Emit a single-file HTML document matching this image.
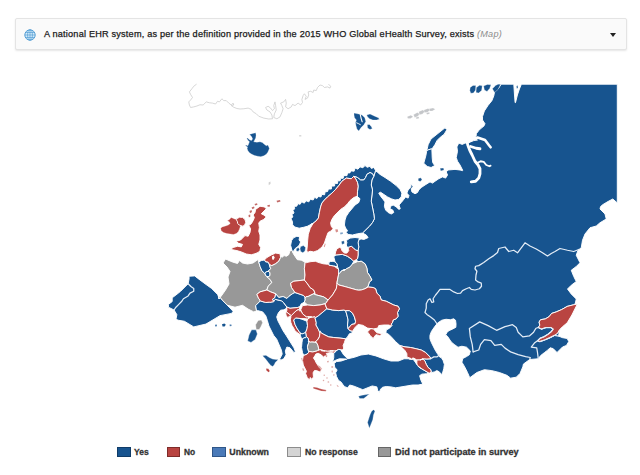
<!DOCTYPE html>
<html><head><meta charset="utf-8"><title>A national EHR system exists (Map)</title>
<style>
html,body{margin:0;padding:0;background:#fff;}
body{width:640px;height:475px;position:relative;overflow:hidden;font-family:"Liberation Sans",sans-serif;color:#222;}
.hdr{position:absolute;left:15px;top:18px;width:610px;height:30px;border:1px solid #e4e4e4;border-radius:2px;background:#fafafa;box-shadow:0 1px 2px rgba(0,0,0,.10);box-sizing:content-box;}
.hdr .t{position:absolute;left:28.3px;top:8.9px;height:12px;line-height:12px;font-size:8.8px;color:#1a1a1a;white-space:nowrap;transform-origin:0 50%;transform:scaleX(1.04);letter-spacing:0.19px;-webkit-text-stroke:0.25px #1a1a1a;}
.hdr .t i{color:#8c8c8c;-webkit-text-stroke:0;}
.hdr svg.g{position:absolute;left:7.7px;top:9.6px;}
.hdr .c{position:absolute;left:593.5px;top:14px;width:0;height:0;border-left:3.5px solid transparent;border-right:3.5px solid transparent;border-top:4px solid #222;}
.sw{position:absolute;top:447px;width:11.6px;height:7.8px;border:1px solid #555;box-sizing:content-box;}
.lt{position:absolute;top:446.3px;height:12px;line-height:12px;font-size:8.8px;-webkit-text-stroke:0.3px #333;font-weight:bold;color:#333;white-space:nowrap;transform-origin:0 50%;}
svg.map{position:absolute;left:0;top:0;}
</style></head><body>
<div class="hdr">
<svg class="g" width="12" height="12" viewBox="0 0 12 12"><circle cx="6" cy="6" r="5.2" fill="#d4ecfa" stroke="#4796d0" stroke-width="0.9"/><g fill="none" stroke="#4796d0" stroke-width="0.6"><ellipse cx="6" cy="6" rx="2.4" ry="5.2"/><path d="M6 0.8V11.2M0.8 6H11.2M1.7 3.5H10.3M1.7 8.5H10.3"/></g></svg>
<div class="t" id="ht">A national EHR system, as per the definition provided in the 2015 WHO Global eHealth Survey, exists <i>(Map)</i></div>
<div class="c"></div>
</div>
<svg class="map" width="640" height="475" viewBox="0 0 640 475">
<path d="M299 135.2 L301.2 135 L301.4 136.4 L299.2 136.6Z" fill="#d6d6d6" stroke="none" stroke-width="0" stroke-linejoin="round"/>
<path d="M268.6 182.4 L270.4 181.6 L270.6 183.8 L268.8 185.2Z" fill="#d0d0d0" stroke="none" stroke-width="0" stroke-linejoin="round"/>
<path d="M366.25 235 L368.10 237.60 L364 239.40 L361.25 239 L358.99 239.43 L358.10 242.50 L358.75 246.90 L358.10 250.60 L358.10 255 L357.50 258.75 L356.23 259.60 L358.04 261.71 L361.25 261.25 L365 263.75 L366.88 268.12 L367.50 272.50 L370 276.25 L371.88 280 L369.38 281.88 L368.12 286.25 L365.05 288.72 L368.10 287 L373.10 287.50 L375.60 288.75 L376.90 293.10 L380 296.25 L381.25 300 L386.25 301.25 L393.75 305 L398.10 306.25 L399.40 308.75 L397.50 312.50 L398.10 316.25 L396.25 318.75 L393.10 320 L392.50 322.50 L391.16 324.11 L391.83 325.41 L391.32 326.03 L391.40 326.06 L389.63 328.13 L386.25 330 L385.88 333 L388.50 334.13 L391.88 337.50 L395.63 341.63 L400 345.62 L405 346.88 L410.62 347.50 L416.25 348.75 L421.25 350 L425.62 352.50 L430 356.88 L430.62 358.75 L426.88 359 L423.12 358.75 L422.88 358.84 L423.02 359.03 L423.12 359 L425 361.25 L426.25 364.38 L428.12 367.50 L430.62 369.38 L431.25 371.88 L431.30 371.84 L431.88 372.50 L434.38 371.88 L436.88 370.62 L439.38 371.88 L441.25 374.38 L442.50 373.12 L443.75 368.75 L444.38 364.38 L443.12 360.62 L441.25 357.50 L439.91 357.18 L437.54 353.86 L435.17 350.07 L431.37 342.49 L429.95 338.70 L429.95 335.38 L431.37 331.59 L434.22 327.32 L437.54 323.06 L441.80 320.21 L446.07 319.27 L450.33 319.74 L453.65 318.79 L455.55 320.21 L456.02 324 L455.83 327.32 L452.23 329.22 L448.91 330.64 L447.01 332.54 L445.59 334.91 L447.49 336.33 L451.28 342.01 L454.12 344.38 L457.44 346.75 L458.13 347.19 L461.88 346.25 L466.56 347.19 L470.32 350.94 L469.38 354.69 L466.56 356.57 L462.81 358.44 L461.88 362.19 L464.69 366.88 L467.50 372.51 L469.75 377.76 L476.88 372.51 L484.38 369.69 L491.88 370.63 L499.38 372.51 L506.88 375.32 L510.63 378.13 L516.26 377.19 L520.01 373.44 L522.82 366.88 L523.44 364.06 L529.69 359.53 L538.28 358.75 L540.62 355.62 L544.53 352.50 L547.66 350.16 L550 347.81 L553.12 348.59 L557.03 352.50 L562.50 347.03 L566.41 345.47 L568.75 341.56 L567.19 338.44 L562.50 337.66 L558.59 336.09 L559.38 330.94 L561.37 327.85 L559.38 329.84 L557.81 332.97 L554.69 335.31 L550 337.66 L544.53 340 L539.84 341.56 L537.50 340.78 L539.84 338.44 L543.75 336.88 L547.66 334.53 L551.56 331.41 L553.12 329.06 L550.78 327.50 L546.09 327.50 L541.41 329.06 L538.28 327.50 L539.84 325.16 L539.06 322.03 L540.62 319.69 L545.31 318.91 L549.22 316.56 L551.56 313.44 L556.25 311.88 L561.72 309.53 L567.19 306.41 L573.44 304.84 L574.72 304.58 L575.25 303.50 L576.25 299 L571.25 294 L567.50 289 L571.25 285.25 L576.25 281.50 L573.75 276.50 L571.25 270.25 L576.25 266.50 L580 262.75 L576.25 255.25 L578 250.25 L581.25 247.75 L582.50 240.25 L585 234 L590 227.75 L596.25 226 L600 222.75 L606.25 219 L605 214 L600 209 L600.60 206.50 L603 204.50 L608 201.50 L612.80 199 L616.40 202.20 L617.30 202.20 L617.30 84.20 L521.40 84.20 L519.40 89 L517.40 95 L515.49 102.63 L515.10 102.59 L514.50 95 L513.80 84.20 L501.26 84.13 L498.44 88.44 L494.69 91.25 L493.76 95.94 L491.88 100.63 L488.13 105.31 L484.38 110.94 L482.51 116.56 L482.50 120 L485 123.75 L483.75 126.25 L481.25 128.10 L478.75 130.60 L476.25 133.75 L476.25 135.60 L474.40 138.75 L477.50 140 L473.75 140.60 L470.60 141.90 L468.10 143.10 L465 143.10 L462.25 144.40 L458.75 143.10 L456.90 146.90 L457.50 151.25 L456.25 157.50 L457.50 161.25 L460 165 L462.70 170.34 L461.72 170.21 L462.28 170.58 L461.29 170.38 L461.34 170.17 L455 169.38 L448.12 170 L446.25 171.88 L447.50 175 L445.62 178.12 L442.50 176.88 L438.75 178.75 L435 181.25 L432.50 183.12 L430 181.88 L425 185 L421.25 187.50 L418.75 190 L417.50 192.50 L415 193.75 L411.88 191.88 L411.25 188.75 L413.12 186.25 L411.25 184.38 L412.50 183.75 L410 184.38 L411.25 185.62 L410 188.12 L408.12 190 L406.88 193.12 L409 195.62 L408.12 198.12 L405.62 196.88 L403.75 199.38 L401.25 202.50 L399 205 L400.25 208.75 L398.75 209.38 L396.25 206.88 L393.12 205 L390.62 206.25 L390 208.75 L392.75 210 L393.75 212.50 L391.25 214 L388.12 212.50 L385.62 210 L384.38 206.25 L385 201.88 L383.12 199.38 L380.62 196.25 L378.75 193.12 L380.62 192.25 L387.50 196.88 L391.25 198.75 L395 200 L398.75 199.38 L401.25 196.88 L401.88 193.12 L400 189.38 L396.25 185.62 L390.62 181.25 L385 177.50 L380 174.38 L375.60 170.50 L373.75 176.25 L371.90 180 L371.25 185 L372.50 190 L371.25 201.25 L373.75 213.75 L374.40 218.75 L372.50 222.50 L369.40 226.25 L362.50 233Z" fill="#17548f" fill-rule="evenodd" stroke="#fff" stroke-width="0.95" stroke-linejoin="round"/>
<path d="M440 168.25 L443.5 168 L444 170 L440.75 171Z" fill="#17548f" stroke="#fff" stroke-width="0.3" stroke-linejoin="round"/>
<path d="M418.25 178.5 L420.75 177.75 L422 179.75 L420.25 181.5 L418.25 180.75Z" fill="#17548f" stroke="#fff" stroke-width="0.3" stroke-linejoin="round"/>
<path d="M574.72 304.58 L573.44 304.84 L567.19 306.41 L561.72 309.53 L556.25 311.88 L551.56 313.44 L549.22 316.56 L545.31 318.91 L540.62 319.69 L539.06 322.03 L539.84 325.16 L538.28 327.50 L541.41 329.06 L546.09 327.50 L550.78 327.50 L553.12 329.06 L551.56 331.41 L547.66 334.53 L543.75 336.88 L539.84 338.44 L537.50 340.78 L539.84 341.56 L544.53 340 L550 337.66 L554.69 335.31 L557.81 332.97 L559.38 329.84 L562.50 326.72 L567.19 322.81 L571.88 315 L577.34 304.06 L575.02 304.52 L575.25 303.50Z" fill="#b94441" fill-rule="evenodd" stroke="#fff" stroke-width="0.95" stroke-linejoin="round"/>
<path d="M444.07 134.38 L446.88 129.69 L445 127.82 L430.94 139.07 L428.13 144.69 L426.63 151.25 L427.23 150.51 L428.40 149.79 L431.54 148.90 L432.09 148.86 L434.88 144.69 L437.13 140.38 L440.32 137.19Z" fill="#17548f" fill-rule="evenodd" stroke="#fff" stroke-width="0.95" stroke-linejoin="round"/>
<path d="M431.81 148.85 L428.40 149.79 L427.23 150.51 L426.63 151.25 L425.90 155.50 L423.75 163.30 L427.20 166.40 L431.10 167.50 L434.70 165.60 L432.70 162.50 L432.20 157.80 L431.86 149.21 L432.09 148.86Z" fill="#17548f" fill-rule="evenodd" stroke="#fff" stroke-width="0.95" stroke-linejoin="round"/>
<path d="M470.2 87.4 L473 85.4 L475.8 85.6 L475.6 90 L473.4 93 L470.8 93.2 L469.8 90.4Z" fill="#17548f" stroke="#fff" stroke-width="0.3" stroke-linejoin="round"/>
<path d="M476.4 87.6 L479.6 85.2 L482.2 85.8 L481.6 90.6 L478.6 93 L476 92.4Z" fill="#17548f" stroke="#fff" stroke-width="0.3" stroke-linejoin="round"/>
<path d="M483.6 86 L487.4 84.4 L491 84.8 L489.6 88.6 L487 91.4 L484.4 90Z" fill="#17548f" stroke="#fff" stroke-width="0.3" stroke-linejoin="round"/>
<path d="M492.4 88.8 L495.6 85.4 L498 84.2 L500.6 84.2 L498 89.6 L494.6 92.4Z" fill="#17548f" stroke="#fff" stroke-width="0.3" stroke-linejoin="round"/>
<path d="M516.6 86 L517.6 85.6 L517.8 88 L516.8 88.4Z" fill="#17548f" stroke="none" stroke-width="0" stroke-linejoin="round"/>
<path d="M407.13 116.63 L410.88 115.13 L413.13 116.63 L410.5 118.5 L407.88 118.5Z" fill="#c4c6c9" stroke="#fff" stroke-width="0.2" stroke-linejoin="round"/>
<path d="M413.5 114.75 L417.25 112.5 L419.5 113.63 L418 116.25 L414.63 117.38Z" fill="#c4c6c9" stroke="#fff" stroke-width="0.2" stroke-linejoin="round"/>
<path d="M418.75 111.75 L422.88 109.88 L424.75 111.38 L422.5 114 L419.5 114.75Z" fill="#c4c6c9" stroke="#fff" stroke-width="0.2" stroke-linejoin="round"/>
<path d="M424 109.88 L428.13 108.38 L430 109.88 L427.38 112.13 L424.38 112.5Z" fill="#c4c6c9" stroke="#fff" stroke-width="0.2" stroke-linejoin="round"/>
<path d="M429.25 108.75 L433 108 L435.25 109.13 L432.25 111 L429.63 111Z" fill="#c4c6c9" stroke="#fff" stroke-width="0.2" stroke-linejoin="round"/>
<path d="M415.75 117.38 L418.75 116.63 L419.13 118.13 L416.5 118.88Z" fill="#c4c6c9" stroke="#fff" stroke-width="0.2" stroke-linejoin="round"/>
<path d="M426.25 112.88 L429.25 112.13 L429.63 113.63 L427 114.38Z" fill="#c4c6c9" stroke="#fff" stroke-width="0.2" stroke-linejoin="round"/>
<path d="M354 113.1 L358.75 114 L362 115 L364.8 117.8 L365.8 121.5 L363.9 124.8 L361.1 127.6 L358.75 130.9 L356.9 129 L355.9 125.3 L355.5 122.5 L356.4 120.1 L354.5 117.8 L354 115Z" fill="#17548f" stroke="#fff" stroke-width="0.3" stroke-linejoin="round"/>
<path d="M366.7 115 L370 114 L374.2 115.9 L378.4 117.8 L379.4 119.2 L376.5 120.1 L372.8 120.1 L369.5 118.75 L367.6 116.9Z" fill="#17548f" stroke="#fff" stroke-width="0.3" stroke-linejoin="round"/>
<path d="M367.2 124.8 L369.5 124.4 L371.4 126.7 L372.3 128.6 L370 129.5 L367.6 128.1Z" fill="#17548f" stroke="#fff" stroke-width="0.3" stroke-linejoin="round"/>
<path d="M314.63 197.32 L313.16 199.94 L310.28 199.32 L308.80 201.87 L305.96 200.75 L304.29 203.18 L301.71 201.75 L300.08 204.34 L297.79 203.68 L296.81 206.14 L294.15 206.43 L294.62 208.81 L292.99 210.50 L294.04 212.99 L291.87 214.55 L292.87 216.95 L290.95 218.69 L292.50 221.61 L292.60 224.80 L294.70 227 L299.20 228.20 L303.60 227.30 L307.30 226.30 L313.20 223.20 L316 221 L318.40 218.10 L319.40 212.50 L320.60 206.90 L321.90 203.10 L324.40 200 L327.50 196.90 L331.90 193.10 L335.60 189.40 L338.75 185.60 L341.90 181.25 L346.25 178.10 L351.25 178.75 L353.75 176.25 L357.50 177.50 L360.60 180 L363.75 180 L365.60 177.50 L366.90 174.40 L370 172.50 L372.50 173.75 L373.75 176.25 L375.60 170.50 L376.71 171.46 L375.58 170.46 L373.83 167.45 L371.35 168.45 L370.02 166.19 L367.32 167.33 L365 165.56 L362.90 167.78 L359.99 166.87 L357.90 169.16 L354.99 168.06 L354.11 171.20 L350.89 170.88 L349.86 172.95 L347.56 172.96 L346.94 175.68 L343.96 175.50 L343.13 178.31 L340.65 178.34 L340.21 180.76 L337.74 180.83 L337.50 183.52 L334.81 183.33 L334.57 186.02 L331.70 186.06 L331.35 189.03 L328.40 189 L327.64 191.49 L325.03 191.89 L324.62 194.79 L321.73 194.43 L320.99 196.96 L318.36 196.44 L316.90 198.51Z" fill="#17548f" fill-rule="evenodd" stroke="#fff" stroke-width="0.95" stroke-linejoin="round"/>
<path d="M355 205 L348.75 212.50 L346.25 216.25 L345 220 L344.40 225 L345.60 228.10 L347.50 230.60 L346.25 232.50 L348.10 234.40 L352.50 235 L357.50 233.75 L362.50 233 L369.40 226.25 L372.50 222.50 L374.40 218.75 L373.75 213.75 L371.25 201.25 L372.50 190 L371.25 185 L371.90 180 L373.75 176.25 L372.50 173.75 L370 172.50 L366.90 174.40 L365.60 177.50 L363.75 180 L360.60 180 L357.50 177.50 L353.75 176.25 L355.60 178.75 L357.50 182.50 L358.10 186.25 L357.50 191.25 L357.25 196.50 L358.16 197.25 L357.04 196.33 L360 198.75 L358.75 202.50Z" fill="#17548f" fill-rule="evenodd" stroke="#fff" stroke-width="0.95" stroke-linejoin="round"/>
<path d="M357.50 191.25 L358.10 186.25 L357.50 182.50 L355.60 178.75 L353.75 176.25 L351.25 178.75 L346.25 178.10 L341.90 181.25 L338.75 185.60 L335.60 189.40 L331.90 193.10 L327.50 196.90 L324.40 200 L321.90 203.10 L320.60 206.90 L319.40 212.50 L318.40 218.10 L316 221 L313.20 223.20 L310.91 224.43 L313.16 223.27 L310.20 228.30 L308.30 234.20 L307.70 240.10 L307.30 246 L306.80 250.40 L307.50 252.50 L310 251.25 L313.75 251.90 L317.50 250.60 L320 248.75 L322.50 246.25 L324.40 243.10 L326.90 235.60 L328.10 232.50 L330.60 231.25 L333.10 228.75 L331.25 226.25 L330.60 223 L331.90 219.40 L334.40 215.60 L340.60 209.40 L344.40 206.90 L347.50 203.75 L350 200.60 L353.75 197.50 L357.04 196.33 L358.16 197.25 L357.25 196.50Z" fill="#b94441" fill-rule="evenodd" stroke="#fff" stroke-width="0.95" stroke-linejoin="round"/>
<path d="M335.2 229.6 L337.6 229.2 L338.2 231.6 L336 232.6Z" fill="#d78f8c" stroke="none" stroke-width="0" stroke-linejoin="round"/>
<path d="M323.8 246.5 L325 243.6 L325.6 244 L324.6 247.2Z" fill="#d78f8c" stroke="none" stroke-width="0" stroke-linejoin="round"/>
<path d="M340 232.8 L342.6 232.2 L343 233.8 L340.6 234.4Z" fill="#7fa3c8" stroke="none" stroke-width="0" stroke-linejoin="round"/>
<path d="M249.45 134.38 L252.58 133.44 L255.7 132.81 L256.09 135.16 L255.7 137.89 L254.53 140.23 L253.75 141.8 L256.88 142.19 L260 141.8 L262.34 142.58 L264.3 144.14 L266.25 145.7 L267.81 144.92 L268.59 146.48 L269.38 148.44 L268.59 150.39 L267.81 152.34 L266.25 154.3 L263.91 155.86 L260.78 156.64 L257.66 156.25 L254.53 155.47 L251.8 154.3 L249.45 152.73 L247.89 150.78 L247.11 148.44 L247.5 146.88 L245.55 145.7 L245.94 144.92 L247.89 145.7 L248.67 143.75 L249.45 141.8 L247.89 140.23 L246.72 138.28 L247.5 137.89 L249.45 139.84 L251.41 140.62 L252.58 139.06 L251.8 137.11 L250.62 135.55Z" fill="#17548f" stroke="#fff" stroke-width="0.3" stroke-linejoin="round"/>
<path d="M254.38 217.50 L253.12 220.62 L251.25 223.75 L248.75 225.62 L250.62 228.75 L250 232.50 L248.12 236.25 L245 235.62 L240.62 240 L236.25 241.25 L238.12 243.12 L242.50 244.38 L241.25 246.88 L237.50 246.25 L233.12 247.50 L230.62 249.38 L236.88 250.62 L241.25 251.88 L246.25 254 L251.25 254.75 L255 253.75 L258.12 252.50 L260 250.62 L260.62 247.50 L258.75 244.38 L260 240 L260 235 L258.75 231.25 L259.38 227.50 L258.75 223.12 L260 221.25 L263.75 219.38 L266.25 216.88 L263.75 215 L261.25 213.75 L266.25 208.75 L264.38 206.88 L260 206.25 L255.62 209.38 L255 212.50 L253.12 215Z" fill="#b94441" fill-rule="evenodd" stroke="#fff" stroke-width="0.95" stroke-linejoin="round"/>
<path d="M220.69 228.33 L222.11 226.91 L225.43 225.96 L228.27 225.01 L230.17 223.59 L229.22 221.7 L227.32 220.75 L229.69 219.33 L231.11 217.43 L233.48 218.38 L235.38 219.33 L237.27 218.38 L239.64 217.24 L242.49 217.43 L244.86 219.33 L245.81 222.17 L244.86 224.54 L242.96 226.25 L240.59 225.68 L240.12 226.91 L239.45 229.28 L238.22 231.65 L236.33 233.55 L233.48 234.49 L230.17 234.02 L226.85 233.55 L223.53 232.6 L221.16 230.7Z" fill="#b94441" stroke="#fff" stroke-width="0.3" stroke-linejoin="round"/>
<path d="M239.64 217.24 L237.27 218.38 L236.33 219.80 L237.27 221.22 L237.75 223.59 L239.17 225.01 L242.96 226.25 L244.86 224.54 L245.81 222.17 L244.86 219.33 L242.49 217.43Z" fill="#b94441" fill-rule="evenodd" stroke="#fff" stroke-width="0.95" stroke-linejoin="round"/>
<path d="M251.5 207.5 L254 206.5 L254.5 208 L252.5 209.25Z" fill="#c26a67" stroke="none" stroke-width="0" stroke-linejoin="round"/>
<path d="M249.5 211 L251.5 210 L252 212 L250 213.25Z" fill="#c26a67" stroke="none" stroke-width="0" stroke-linejoin="round"/>
<path d="M248.5 215 L250.25 214.5 L250.25 217 L248.75 217.25Z" fill="#c26a67" stroke="none" stroke-width="0" stroke-linejoin="round"/>
<path d="M254.5 204 L257 203.25 L257.5 204.75 L255.25 205.5Z" fill="#c26a67" stroke="none" stroke-width="0" stroke-linejoin="round"/>
<path d="M267.25 205.25 L269.75 204.75 L270 206.5 L267.75 206.75Z" fill="#c26a67" stroke="none" stroke-width="0" stroke-linejoin="round"/>
<path d="M276.5 200.75 L280 200 L280.5 201.5 L277.25 202.5Z" fill="#c26a67" stroke="none" stroke-width="0" stroke-linejoin="round"/>
<path d="M211.57 288.44 L205 283.75 L197.50 278.13 L194.69 275.88 L189.06 276.25 L189.06 279.06 L188.13 283.75 L180.63 291.25 L175.94 295 L172.19 297.81 L172.19 301.56 L168.44 304.38 L168.44 307.19 L174.06 310 L176.88 314.69 L175.94 319.38 L178.75 320.32 L184.38 321.25 L193.75 326.88 L205.94 324.07 L220 315.63 L231.63 313.38 L233.13 311.32 L227.50 305.32 L229.20 307.14 L227.50 305.32 L222.82 300.63 L220.17 297.44 L219 299 L218.13 295Z" fill="#17548f" fill-rule="evenodd" stroke="#fff" stroke-width="0.95" stroke-linejoin="round"/>
<path d="M222 324.2 L224.4 323.4 L225.8 324.8 L224.6 326.6 L222.6 326.4Z" fill="#17548f" stroke="none" stroke-width="0" stroke-linejoin="round"/>
<path d="M229.6 324.6 L231.4 324.4 L231.6 326 L229.8 326.2Z" fill="#4f7fb0" stroke="none" stroke-width="0" stroke-linejoin="round"/>
<path d="M215 324.8 L216.8 324.6 L217 326.2 L215.2 326.4Z" fill="#4f7fb0" stroke="none" stroke-width="0" stroke-linejoin="round"/>
<path d="M261.88 270.62 L260 266.25 L258 259.50 L253 263 L247.50 264 L242.50 263 L239.50 260.50 L237.50 263.50 L232.50 262 L225.50 259 L223 263 L227 267 L230 271.50 L228 277 L229 284 L225.50 290 L222 295 L220.17 297.44 L218.13 295 L219 299 L220.17 297.44 L222.82 300.63 L227.50 305.32 L229.20 307.14 L227.50 305.32 L235 307.19 L242.51 305.32 L248.13 309.07 L253.76 311.88 L257.58 310.60 L256.57 310.94 L255.62 305.62 L260.31 300.94 L259.33 299.06 L258.75 298.75 L256.88 294.38 L260 291.88 L266.88 290 L268.12 286.25 L271.88 282.50 L270 279.38 L266.88 276.88 L266.47 276.19 L266 276 L265 273.75Z" fill="#989898" fill-rule="evenodd" stroke="#fff" stroke-width="0.95" stroke-linejoin="round"/>
<path d="M258.2 320.4 L261.4 320 L262.6 322.8 L261 326.4 L259.2 329.6 L256.2 329.4 L255.6 324.8Z" fill="#989898" stroke="#fff" stroke-width="0.4" stroke-linejoin="round"/>
<path d="M251.6 329.8 L256 329.8 L257.4 334 L255.2 339.4 L251 342.4 L247.6 341 L249 335Z" fill="#17548f" stroke="#fff" stroke-width="0.4" stroke-linejoin="round"/>
<path d="M265.78 302.50 L265.16 302.32 L265 302.38 L264.71 302.20 L260.31 300.94 L255.62 305.62 L256.57 310.94 L257.58 310.60 L262.66 311.88 L265.78 315.78 L267.34 320.47 L268.91 325.94 L273.59 335.31 L276.72 339.22 L281.41 350.16 L282.19 354.06 L279.84 358.75 L280.62 360.31 L283.75 358.75 L286.09 354.84 L285.31 350.94 L286.88 347.03 L290 347.81 L293.91 352.50 L295.47 351.72 L293.91 347.81 L286.09 335.31 L282.97 330.62 L280.62 325.94 L277.90 320.80 L276.70 316.90 L278.30 313 L280.60 310.20 L283.75 309.80 L286.10 308.70 L286.90 307.10 L283.75 302.80 L281.80 300.90 L275.20 299.30 L273.59 301.72 L271.99 301.88 L270 302.38 L269.33 302.15Z" fill="#17548f" fill-rule="evenodd" stroke="#fff" stroke-width="0.95" stroke-linejoin="round"/>
<path d="M262.7 355.6 L266 355.2 L269.4 357.5 L272.7 359 L276.5 359.4 L277.9 359 L277.4 360.4 L275.5 362.3 L274.1 365.1 L272.7 366.5 L270.8 365.6 L268.4 362.75 L265.6 359 L263.2 356.6Z" fill="#17548f" stroke="#fff" stroke-width="0.4" stroke-linejoin="round"/>
<path d="M266 368.4 L268.4 368.8 L269.8 371 L268.6 372.2 L266.4 370.6Z" fill="#b94441" stroke="#fff" stroke-width="0.2" stroke-linejoin="round"/>
<path d="M280 253.75 L275.62 253.12 L271.25 255 L266.88 257.50 L264.38 260 L265.62 261.88 L268.12 262.25 L269.38 264.75 L271.88 265.62 L275.62 263.75 L278.75 261.25 L280.62 257.50Z" fill="#b94441" fill-rule="evenodd" stroke="#fff" stroke-width="0.95" stroke-linejoin="round"/>
<path d="M268.12 262.25 L265.62 261.88 L264.38 260 L261.25 260.62 L258.75 261.88 L260 266.25 L261.88 270.62 L265 273.75 L265.62 272.25 L268.12 271.25 L270.62 268.75 L269.38 264.75Z" fill="#17548f" fill-rule="evenodd" stroke="#fff" stroke-width="0.95" stroke-linejoin="round"/>
<path d="M270 272.50 L268.12 271.25 L265.62 272.25 L265 273.75 L266 276 L266.47 276.19 L266.78 276.71 L266.87 276.36 L268.12 276.88 L270 275.62Z" fill="#17548f" fill-rule="evenodd" stroke="#fff" stroke-width="0.95" stroke-linejoin="round"/>
<path d="M271.9 256.4 L273.6 255.6 L274.6 257.6 L273.8 259.8 L272.2 259.6Z" fill="#fff" stroke="none" stroke-width="0" stroke-linejoin="round"/>
<path d="M280.42 256.31 L280.62 257.50 L278.75 261.25 L275.62 263.75 L271.88 265.62 L269.38 264.75 L270.62 268.75 L268.12 271.25 L270 272.50 L270 275.62 L268.12 276.88 L266.87 276.36 L266.78 276.71 L266.88 276.88 L270 279.38 L271.88 282.50 L268.12 286.25 L266.88 290 L270.62 291.88 L275.62 293.75 L278.75 297.50 L283.12 296.50 L286.89 298.49 L289 296.25 L292.50 293.75 L295 292.50 L291.50 287.50 L290.62 283.12 L293.75 281.25 L304.38 280 L305 275 L304.38 268.75 L305.16 262.19 L301.25 260.16 L297.34 259.69 L293.44 253.91 L291.88 250 L290 250.78 L288.75 254.69 L286.41 256.25 L284.06 255.62 L282.19 257.19Z" fill="#989898" fill-rule="evenodd" stroke="#fff" stroke-width="0.95" stroke-linejoin="round"/>
<path d="M299.38 245 L300.62 241.88 L299.06 240 L299.69 236.88 L296.88 236.25 L293.44 237.81 L291.56 240.62 L290.62 245.31 L291.88 250 L290.63 250.52 L291.88 250 L292.87 252.47 L292.78 252.25 L295.31 248.44 L297.50 246.88Z" fill="#17548f" fill-rule="evenodd" stroke="#fff" stroke-width="0.95" stroke-linejoin="round"/>
<path d="M296.25 248.75 L298.44 247.5 L299.69 249.38 L298.12 251.56 L296.25 250.94Z" fill="#17548f" stroke="#fff" stroke-width="0.4" stroke-linejoin="round"/>
<path d="M300.62 246.56 L303.44 245.62 L305.62 247.5 L305 250.94 L302.81 252.81 L300.62 251.56 L300 248.75Z" fill="#17548f" stroke="#fff" stroke-width="0.4" stroke-linejoin="round"/>
<path d="M275.62 293.75 L270.62 291.88 L266.88 290 L260 291.88 L256.88 294.38 L258.75 298.75 L259.33 299.06 L260.31 300.94 L264.71 302.20 L265 302.38 L265.16 302.32 L265.78 302.50 L269.33 302.15 L270 302.38 L271.99 301.88 L273.59 301.72 L274.32 300.62 L273.15 300.57 L272.75 299.50 L273.07 299.21 L272.75 299.20 L275 297.50 L275.60 293.75 L276.76 295.13Z" fill="#b94441" fill-rule="evenodd" stroke="#fff" stroke-width="0.95" stroke-linejoin="round"/>
<path d="M278.75 297.50 L275.60 293.75 L275 297.50 L272.75 299.20 L273.07 299.21 L272.75 299.50 L273.15 300.57 L274.32 300.62 L275.20 299.30 L281.80 300.90 L283.75 302.80 L286.90 307.10 L290 308.30 L297.80 307.50 L299.80 306.70 L301.25 303.75 L304 302.50 L305.25 300 L305 296.90 L303.10 295.25 L295 292.50 L292.50 293.75 L289 296.25 L286.89 298.49 L283.12 296.50Z" fill="#17548f" fill-rule="evenodd" stroke="#fff" stroke-width="0.95" stroke-linejoin="round"/>
<path d="M304.38 280 L293.75 281.25 L290.62 283.12 L291.50 287.50 L295 292.50 L303.10 295.25 L305 296.90 L305.11 298.22 L306 296.76 L308.12 296.50 L314.99 293.13 L313.75 290 L310 287.50 L307.50 283.75Z" fill="#b94441" fill-rule="evenodd" stroke="#fff" stroke-width="0.95" stroke-linejoin="round"/>
<path d="M305.16 262.19 L304.38 268.75 L305 275 L304.38 280 L307.50 283.75 L310 287.50 L313.75 290 L315 293.11 L314.40 294.40 L323.75 296.90 L328.10 300 L332.50 295 L336.25 288.75 L337 284.50 L337 282.50 L338.50 275 L338.73 270.03 L338.40 269.22 L334.63 266.22 L333.10 265.80 L329 265.20 L328.90 264.12 L327 264.20 L323.10 263.75 L319 262.60 L315.30 261.25 L311 261.60 L306.70 262.50 L306.31 262.79Z" fill="#b94441" fill-rule="evenodd" stroke="#fff" stroke-width="0.95" stroke-linejoin="round"/>
<path d="M306 296.76 L305.11 298.22 L305.25 300 L304 302.50 L303.80 302.59 L304.69 302.19 L307.50 305 L313.75 305.60 L320 305 L325 303.75 L325.60 303.50 L328.10 300 L323.75 296.90 L314.40 294.40 L314.94 293.15 L308.12 296.50Z" fill="#989898" fill-rule="evenodd" stroke="#fff" stroke-width="0.95" stroke-linejoin="round"/>
<path d="M313.75 305.60 L307.50 305 L302.50 305.60 L300.60 310 L302.50 313.75 L306.25 316.90 L311.25 316.90 L312.25 317.22 L315 316.88 L315.39 317.84 L315 318.10 L318.75 315.60 L326.90 308.75 L325 303.75 L320 305Z" fill="#b94441" fill-rule="evenodd" stroke="#fff" stroke-width="0.95" stroke-linejoin="round"/>
<path d="M286.90 310.20 L286.30 311.80 L291.20 315.70 L295.10 311.80 L297 310.20 L299.40 309.50 L299.80 306.70 L297.80 307.50 L290 308.30 L286.90 307.10 L286.10 308.70 L286.90 308.33Z" fill="#b94441" fill-rule="evenodd" stroke="#fff" stroke-width="0.95" stroke-linejoin="round"/>
<path d="M300.03 311.32 L299.40 309.50 L297 310.20 L295.10 311.80 L291.20 315.70 L286.30 311.80 L285.70 313 L286.10 315.30 L287.70 317.70 L289.40 316.30 L291 316.60 L290.40 319.20 L290.80 322.30 L292 325.50 L293.50 327.80 L294.70 330.20 L296.25 332 L299.96 334.39 L300 334.50 L299.96 334.39 L300.07 334.46 L301.08 333.85 L300.32 332.82 L299.38 331.88 L296.88 328.12 L295 324.38 L293.75 320 L295.62 318.12 L300.03 318.51 L304 318.60 L307.91 319.07 L310 317.50 L311.61 317.30 L308.02 317.30 L308.55 316.90 L306.25 316.90 L302.50 313.75 L300.60 310Z" fill="#b94441" fill-rule="evenodd" stroke="#fff" stroke-width="0.95" stroke-linejoin="round"/>
<path d="M301.38 318.54 L300.03 318.51 L301.26 319.01ZM307 321.25 L300 318.50 L295.62 318.12 L293.75 320 L295 324.38 L296.88 328.12 L299.38 331.88 L301.25 333.75 L302.75 333.75 L305.62 332.50 L307 328.75 L307.50 325.62Z" fill="#17548f" fill-rule="evenodd" stroke="#fff" stroke-width="0.95" stroke-linejoin="round"/>
<path d="M308.02 317.30 L311.61 317.30 L310 317.50 L307.91 319.07 L307.59 319.03 L307 321.25 L307.50 325.62 L307 328.75 L305.62 332.50 L306.25 336.50 L308.12 338.12 L308.75 341.50 L310.54 342.21 L311.88 342 L314.63 342.27 L315 342.25 L317.50 340 L319.38 336.88 L320 333.12 L318.75 330 L316 325 L316.27 322.59 L315.60 320 L315 318.10 L315.39 317.84 L315 316.88 L312.25 317.22 L311.25 316.90 L308.55 316.90Z" fill="#b94441" fill-rule="evenodd" stroke="#fff" stroke-width="0.95" stroke-linejoin="round"/>
<path d="M300.07 334.46 L299.96 334.39 L301 337.25 L302.41 339.46 L302.50 338.75 L305 337.50 L305.67 337.84 L306.21 336.60 L306.57 336.77 L306.25 336.50 L305.62 332.50 L302.75 333.75 L301.25 333.75 L300.32 332.82 L301.08 333.85Z" fill="#17548f" fill-rule="evenodd" stroke="#fff" stroke-width="0.95" stroke-linejoin="round"/>
<path d="M306.57 336.77 L306.21 336.60 L305.67 337.84 L305 337.50 L302.50 338.75 L302 342.50 L301.50 347.50 L302.50 352.50 L303.68 355.46 L307.19 354.06 L308.65 352.31 L308.58 351.27 L308.50 351.25 L307.50 347.50 L307.50 346.25 L308.75 342.50 L308.32 341.22 L308.68 341.14 L308.12 338.12Z" fill="#17548f" fill-rule="evenodd" stroke="#fff" stroke-width="0.95" stroke-linejoin="round"/>
<path d="M314.63 342.27 L311.88 342 L310.54 342.21 L308.75 341.50 L308.68 341.14 L308.32 341.22 L308.75 342.50 L307.50 346.25 L307.50 347.50 L308.50 351.25 L312.50 352 L316.88 351 L317.32 350.66 L317.73 350.58 L319.96 349.68 L317.99 350.48 L317.80 350.30 L318.93 349.43 L318.80 349.40 L318 345.50 L316.52 342.46 L315.16 342.33 L315.23 342.04 L316.29 341.08 L315 342.25Z" fill="#989898" fill-rule="evenodd" stroke="#fff" stroke-width="0.95" stroke-linejoin="round"/>
<path d="M333.75 337.50 L340 338.10 L345.60 338.75 L347.50 336.90 L349.40 333.75 L351.90 333.10 L352.50 331.25 L350 330.60 L348.10 328.75 L347.50 325 L348.10 320 L346.90 315 L345.60 310.60 L343.75 310 L338.75 310.60 L332.50 310 L326.90 308.75 L318.75 315.60 L315 318.10 L315.60 320 L316.27 322.59 L316 325 L318.75 330 L319.46 331.78 L319.82 331.40 L320.19 331.22 L320.60 332.50 L323.75 334.40 L328.75 336.90Z" fill="#17548f" fill-rule="evenodd" stroke="#fff" stroke-width="0.95" stroke-linejoin="round"/>
<path d="M345.60 310.60 L346.90 315 L348.10 320 L347.50 325 L348.10 328.75 L350 326.25 L351.90 324.40 L355 323.75 L355.60 321.25 L354.40 316.90 L352.50 313.10 L349.40 310.60Z" fill="#17548f" fill-rule="evenodd" stroke="#fff" stroke-width="0.95" stroke-linejoin="round"/>
<path d="M318 345.50 L318.80 349.40 L318.93 349.43 L317.80 350.30 L317.99 350.48 L319.96 349.68 L323.75 350.60 L324.86 350.98 L327.50 351.25 L329.69 351.14 L331.25 350.60 L333.33 350.96 L333.75 350.94 L335.18 351.16 L338.75 349.40 L342.50 350 L343.75 348.10 L343.10 345.60 L344.40 342.50 L345.60 338.75 L340 338.10 L333.75 337.50 L328.75 336.90 L323.75 334.40 L320.60 332.50 L320.19 331.22 L319.82 331.40 L319.46 331.78 L320 333.12 L319.38 336.88 L317.50 340 L315.23 342.04 L315.18 342.24 L315.16 342.33 L316.52 342.46Z" fill="#b94441" fill-rule="evenodd" stroke="#fff" stroke-width="0.95" stroke-linejoin="round"/>
<path d="M329.69 351.14 L333.33 350.96 L331.25 350.60ZM321.25 350.62 L324.86 350.98 L323.75 350.60 L319.96 349.68 L317.73 350.58 L317.32 350.66 L316.88 351 L312.50 352 L308.58 351.27 L308.65 352.31 L307.19 354.06 L303.68 355.46 L303.42 354.79 L302.50 360.31 L303.28 365 L306.41 371.25 L305.62 373.59 L307.19 377.50 L309.53 380 L310.31 377.50 L311.88 379.38 L313.44 376.88 L313.12 372.81 L314.38 370.62 L316.56 370.62 L320.47 372.19 L321.25 369.69 L316.56 363.44 L315 360.31 L313.44 357.97 L315 355.62 L315.78 354.06 L318.12 353.28 L321.25 354.84 L323.59 357.19 L325.16 355.62 L326.72 357.97 L327.50 355.62 L326.25 353.44 L330.62 352.50 L333.87 353.04 L336.17 351.31 L333.75 350.94 L327.50 351.25Z" fill="#b94441" fill-rule="evenodd" stroke="#fff" stroke-width="0.95" stroke-linejoin="round"/>
<path d="M313.25 386.88 L316.88 387.5 L321.25 389 L326.25 390 L326 391.25 L321.25 391 L316.5 389.5 L313.25 388.5Z" fill="#b94441" stroke="#fff" stroke-width="0.3" stroke-linejoin="round"/>
<path d="M357.83 261.47 L352.24 263.86 L350 266.90 L346.20 268.80 L345 270 L342.55 270.40 L341.04 271.03 L340.09 272.88 L339.39 273.05 L339 272.99 L338.61 272.80 L338.50 275 L337 282.50 L337 283.15 L337.62 283.26 L337.50 283.75 L338.67 284.92 L345 286.60 L356.25 289.80 L358.49 290.16 L361.25 290 L365 288.75 L368.12 286.25 L369.38 281.88 L371.88 280 L370 276.25 L367.50 272.50 L366.88 268.12 L365 263.75 L361.25 261.25 L358.04 261.71Z" fill="#989898" fill-rule="evenodd" stroke="#fff" stroke-width="0.95" stroke-linejoin="round"/>
<path d="M335 261.90 L336.90 263.75 L337.50 267 L338.73 270.03 L338.60 272.79 L339 272.99 L339.53 273.04 L340.09 272.88 L341.04 271.03 L345 269.40 L342.55 270.40 L345 270 L346.20 268.80 L350 266.90 L351.90 264.40 L353.10 262.50 L353.75 261.25 L354.87 260.50 L353.75 261.25 L351.90 259.40 L347.50 256.25 L342.50 254.40 L335 255 L334.26 256.13 L335 255 L333.75 256.90 L334.40 258.75ZM338.01 268.25 L337.29 268.33 L338.40 269.22Z" fill="#17548f" fill-rule="evenodd" stroke="#fff" stroke-width="0.95" stroke-linejoin="round"/>
<path d="M333.10 265.80 L337.50 267 L336.90 263.75 L335 261.90 L333.10 261.25 L330.60 261.50 L328.75 262.50 L329 265.20ZM334.62 266.22 L337.29 268.33 L338.01 268.25 L337.50 267Z" fill="#17548f" fill-rule="evenodd" stroke="#fff" stroke-width="0.95" stroke-linejoin="round"/>
<path d="M346.90 253.10 L344.40 253.10 L341.90 250.60 L341.25 248.10 L339.40 247.50 L336.90 248.75 L335.60 251.90 L335 255 L334.26 256.13 L335 255 L342.50 254.40 L347.50 256.25 L351.90 259.40 L353.75 261.25 L357.50 258.75 L358.10 255 L358.10 250.60 L355.60 250 L353.10 247.50 L351.25 246.25 L347.50 247.50 L348.01 248.75 L347.50 247.50 L348.75 250.60Z" fill="#b94441" fill-rule="evenodd" stroke="#fff" stroke-width="0.95" stroke-linejoin="round"/>
<path d="M359.40 238 L355 237.50 L350 238.10 L346.25 240.60 L346.90 242.50 L346.25 245 L347.50 247.50 L348.01 248.75 L347.50 247.50 L351.25 246.25 L353.10 247.50 L355.60 250 L358.10 250.60 L358.75 246.90 L358.10 242.50Z" fill="#17548f" fill-rule="evenodd" stroke="#fff" stroke-width="0.95" stroke-linejoin="round"/>
<path d="M341.4 241.4 L344 240.8 L344.4 243.6 L342 244.4Z" fill="#17548f" stroke="#fff" stroke-width="0.3" stroke-linejoin="round"/>
<path d="M337.62 283.26 L337 283.15 L337 284.50 L336.25 288.75 L332.50 295 L328.10 300 L325.60 303.50 L325 303.75 L326.90 308.75 L332.50 310 L338.75 310.60 L343.75 310 L345.60 310.60 L349.40 310.60 L352.50 313.10 L354.40 316.90 L355.60 321.25 L355 323.75 L351.90 324.40 L350 326.25 L348.10 328.75 L350 330.60 L352.50 331.25 L355 327.50 L358.10 324.40 L362.80 325.30 L367.50 328.10 L373.10 329 L377.80 328.10 L378.75 325.60 L383.75 325 L388.75 325 L391.32 326.03 L391.83 325.41 L391.16 324.11 L392.50 322.50 L393.10 320 L396.25 318.75 L398.10 316.25 L397.50 312.50 L399.40 308.75 L398.10 306.25 L393.75 305 L386.25 301.25 L381.25 300 L380 296.25 L376.90 293.10 L375.60 288.75 L373.10 287.50 L368.10 287 L365 288.75 L361.25 290 L358.49 290.16 L356.25 289.80 L345 286.60 L338.67 284.92 L337.50 283.75Z" fill="#b94441" fill-rule="evenodd" stroke="#fff" stroke-width="0.95" stroke-linejoin="round"/>
<path d="M373.10 329 L369.88 328.48 L370.76 328.62 L367.50 331.88 L370.32 335.63 L373.13 338.44 L375.94 334.69 L379.69 335.63 L382.50 333.75 L376.88 332.81 L373.45 328.93Z" fill="#b94441" fill-rule="evenodd" stroke="#fff" stroke-width="0.95" stroke-linejoin="round"/>
<path d="M347.45 358.58 L346.52 359.19 L341.25 361 L336.56 361.56 L334.13 363.44 L334.69 367.19 L337.13 370 L335.63 372.81 L336.56 376.56 L338.44 380.32 L341.25 382.19 L343.13 385 L345 386.88 L347.81 387.82 L349.69 385 L353.44 385.94 L362.81 389.69 L372.19 385.94 L376.88 386.88 L377.63 390.25 L379.13 392.50 L380.63 389.13 L382.50 387.25 L386.25 386.50 L390.94 386.88 L395.63 387.82 L412.51 385 L418.13 385 L422.82 384.07 L420.94 380.32 L419.63 375.63 L421.88 374.13 L426.57 373.75 L429.09 372.83 L428.94 372.68 L428.44 372.81 L419.07 367.19 L418.68 366.67 L418.12 366.25 L417.84 365.55 L413.27 359.47 L412.34 359.47 L408.75 358.75 L404.07 358.75 L398.44 361 L390.94 361 L383.44 358.75 L375.94 355.94 L368.44 354.06 L360.94 355 L354.38 357.25 L347.66 358.79Z" fill="#17548f" fill-rule="evenodd" stroke="#fff" stroke-width="0.95" stroke-linejoin="round"/>
<path d="M338.75 349.40 L335.18 351.16 L336.17 351.31 L333.87 353.04 L333.75 353.02 L333.75 357.81 L332.63 361.75 L335.63 360.25 L339.38 358.75 L346.50 359.03 L346.52 359.18 L347.45 358.58 L343.50 354.63 L340.53 349.69Z" fill="#17548f" fill-rule="evenodd" stroke="#fff" stroke-width="0.95" stroke-linejoin="round"/>
<path d="M411.28 358.63 L411.26 358.75 L408.75 358.75 L412.34 359.47 L413.27 359.47 L412.26 358.12 L413.75 358.12 L416.88 360 L420 360 L423.12 358.75 L426.88 359 L430.62 358.75 L430 356.88 L425.62 352.50 L421.25 350 L416.25 348.75 L410.62 347.50 L405 346.88 L400 345.62 L405 350.62 L406.88 353.75 L406.88 356.88Z" fill="#b94441" fill-rule="evenodd" stroke="#fff" stroke-width="0.95" stroke-linejoin="round"/>
<path d="M423.02 359.03 L422.88 358.84 L420 360ZM428.44 372.81 L428.94 372.68 L429.38 373.12 L431.25 371.88 L430.62 369.38 L428.12 367.50 L426.25 364.38 L425 361.25 L423.12 359 L420 360 L416.88 360 L416.88 364.26 L416.26 363.44 L417.84 365.55 L418.12 366.25 L420.62 368.12ZM418.68 366.67 L419.07 367.19 L420.61 368.11Z" fill="#b94441" fill-rule="evenodd" stroke="#fff" stroke-width="0.95" stroke-linejoin="round"/>
<path d="M358.5 396.25 L361.88 395.32 L369.38 394 L366.56 396.25 L363.75 398.5 L359.63 398.5Z" fill="#17548f" stroke="#fff" stroke-width="0.3" stroke-linejoin="round"/>
<path d="M373.5 409.75 L375 410.88 L373.5 415 L372.75 419.69 L370.88 424.38 L369.38 428.13 L367.5 422.51 L369 417.82 L370.32 414.07 L371.63 411.25Z" fill="#17548f" stroke="#fff" stroke-width="0.3" stroke-linejoin="round"/>
<path d="M316.88 364.75 L320 366.25 L322.25 369 L321.25 369.5 L318.5 367.25Z" fill="#dfaaa8" stroke="none" stroke-width="0" stroke-linejoin="round"/>
<path d="M331.25 366.25 L333.12 366 L333.12 367.75 L331.5 368Z" fill="#dfaaa8" stroke="none" stroke-width="0" stroke-linejoin="round"/>
<path d="M331.5 370.75 L332.75 370.5 L332.75 372.5 L331.75 372.5Z" fill="#dfaaa8" stroke="none" stroke-width="0" stroke-linejoin="round"/>
<path d="M333 374.5 L334.5 374.25 L334.5 375.5 L333.25 375.75Z" fill="#dfaaa8" stroke="none" stroke-width="0" stroke-linejoin="round"/>
<path d="M336.5 384.75 L338 385.5 L338.75 387 L337.5 386.75Z" fill="#dfaaa8" stroke="none" stroke-width="0" stroke-linejoin="round"/>
<path d="M323.5 374.75 L324.75 374.5 L325 375.75 L323.75 376Z" fill="#dfaaa8" stroke="none" stroke-width="0" stroke-linejoin="round"/>
<path d="M326.25 377.5 L327.5 377.25 L327.75 378.5 L326.5 378.75Z" fill="#dfaaa8" stroke="none" stroke-width="0" stroke-linejoin="round"/>
<path d="M322.75 380 L324 379.75 L324.25 381 L323 381.25Z" fill="#dfaaa8" stroke="none" stroke-width="0" stroke-linejoin="round"/>
<path d="M327.5 381.5 L329 381.25 L329.25 382.5 L327.75 382.75Z" fill="#dfaaa8" stroke="none" stroke-width="0" stroke-linejoin="round"/>
<path d="M301 357.75 L302.25 358.25 L303 361.5 L302 361Z" fill="#dfaaa8" stroke="none" stroke-width="0" stroke-linejoin="round"/>
<path d="M302.25 368.25 L303.75 368.5 L304.25 371 L302.75 370.5Z" fill="#dfaaa8" stroke="none" stroke-width="0" stroke-linejoin="round"/>
<path d="M327 361 L328.75 360.75 L328.75 362.25 L327.25 362.5Z" fill="#dfaaa8" stroke="none" stroke-width="0" stroke-linejoin="round"/>
<path d="M325.5 355 L327 354.75 L327 356.25 L325.75 356.25Z" fill="#dfaaa8" stroke="none" stroke-width="0" stroke-linejoin="round"/>
<path d="M330 384.5 L331.25 384.25 L331.5 385.5 L330.25 385.75Z" fill="#dfaaa8" stroke="none" stroke-width="0" stroke-linejoin="round"/>
<path d="M196.25 84.4 L193.75 86.25 L191.9 88.75 L189.4 91.9 L190.6 94.4 L192.5 97.5 L190.6 100 L188.75 101.9 L189.4 105 L190.6 107.5 L193.75 106.9 L196.9 106 L200 104.75 L203.1 105 L206.25 101.9 L209.4 102.75 L212.5 103.1 L215.6 104 L217.5 101.25 L219.4 101.9 L221.9 98.75 L223.75 100.6 L226.25 100.6 L228.75 103.1 L231.25 105 L233.1 103.1 L233.75 105 L231.25 105.6 L233.75 107.25 L236.9 108.5 L240 109 L243.75 108.75 L248.1 108.1 L251.25 109.4 L253.1 111.9 L256.25 113.75 L258.75 116.25 L263.75 118.1 L268.75 119 L272.5 118.75 L271.9 115 L270 111.9 L266.9 110 L265.6 107.5 L268.1 106.25 L270.6 108.1 L272.5 110.6 L274.4 108.75 L273.75 105.6 L275 101.9 L275.6 105.6 L276.25 110 L274.4 113.75 L273.75 117.5 L276.9 118.75 L280 116.9 L281.9 112.5 L283.1 108.75 L281.9 105.6 L280.6 103.1 L283.75 101.9 L285.6 99.4 L286.25 103.1 L285.6 106.9 L288.1 108.75 L291.25 106.9 L292.5 104.4 L295 105.6 L298.1 103.1 L300.6 105 L302.5 102.5 L301.9 99.4 L303.1 95.6 L304.4 93.75 L306.25 96.25 L305 99.4 L307.5 98.1 L308.75 95 L308.1 91.9 L310.6 91.25 L313.1 92.5 L313.75 90 L316.25 90.6 L317.5 87.5 L320 85 L322.5 85.6 L324.4 87.5 L327.5 86.9 L330 88.1 L330.6 86.25 L328.75 84.4" fill="none" stroke="#c6c6c6" stroke-width="0.7" stroke-linejoin="round" stroke-linecap="round"/>
<path d="M466.88 140.62 L467.75 145 L469.62 150 L472.12 155 L475 161.25 L478.1 165 L480 168.75 L480 173.75 L478.75 178.1 L475.6 181.25 L471.25 181.9" fill="none" stroke="#fff" stroke-width="2.8" stroke-linejoin="round" stroke-linecap="round"/>
<path d="M476.9 163.1 L480.6 161.25 L483.75 161.9 L486.25 165 L489.4 166.25 L490.6 165.6" fill="none" stroke="#fff" stroke-width="1.8" stroke-linejoin="round" stroke-linecap="round"/>
<path d="M473.75 138.75 L477.5 137.5 L481.25 138.75 L485 140 L487.12 142.75 L489 145.25 L490.62 147.25" fill="none" stroke="#fff" stroke-width="2.6" stroke-linejoin="round" stroke-linecap="round"/>
<path d="M470.62 146.5 L476.25 148.25 L480 148.75" fill="none" stroke="#fff" stroke-width="2.8" stroke-linejoin="round" stroke-linecap="round"/>
<path d="M436.9 323.75 L434.4 320 L430.6 316.9 L426.9 314.4 L425 312.5 L426.25 308.1 L426.25 303.75 L428.1 300 L430 298.75 L431.9 302.5 L433.75 301.9 L433.1 298.75 L435.6 295 L438.1 291.9 L440 289.4 L445 289.4 L450 289.4 L453.75 291.9 L457.5 293.5 L460.6 293.1 L462.5 290.6 L466.25 288.75 L469.4 287.5 L471.25 289.4 L475 290 L479.4 288.75 L481.5 286.25 L481.25 283.1 L478.1 281.9 L475.6 280 L476 275 L476.9 271.25 L475 268.75 L475.6 266.25 L478.75 265.6 L483.75 262.5 L488.75 258.75 L493.75 255.6 L497.5 252.5 L498.75 248.5 L505 247 L508.75 251.5 L513.75 250.25 L517.5 252.75 L525 242.75 L530 246 L536.25 249 L542.5 252.75 L547.5 256 L551.25 253.5 L555 251.5 L560 248.5 L567.5 250.25 L573.75 251.5 L578.75 249.5" fill="none" stroke="#e4edf7" stroke-width="1.25" stroke-linejoin="round" stroke-linecap="round"/>
<path d="M473.13 351.88 L472.19 344.38 L470.32 336.88 L469.38 328.44 L479.69 321.88 L488.13 325.63 L496.57 330.32 L505 326.56 L512.51 324.69 L516.26 327.5 L518.13 332.19 L522.82 336.88 L529.38 335.94 L533.59 332.19 L535.94 328.28 L538.28 327.5" fill="none" stroke="#e4edf7" stroke-width="1.25" stroke-linejoin="round" stroke-linecap="round"/>
<path d="M473.13 351.88 L478.75 350 L480.63 344.38 L484.38 339.69 L490.94 340.63 L494.69 345.32 L501.25 344.38 L505 348.13 L510.63 351.88 L518.13 354.69 L525.63 356.57 L530.32 357.5 L529.69 359.53" fill="none" stroke="#e4edf7" stroke-width="1.25" stroke-linejoin="round" stroke-linecap="round"/>
<path d="M538.28 327.5 L541.41 329.06 L546.09 327.5 L550.78 327.5 L553.12 329.06 L551.56 331.41 L547.66 334.53 L543.75 336.88 L539.84 338.44 L537.5 340.78 L534.38 343.12 L531.25 347.03 L536.72 347.81 L537.5 352.5 L538.28 358.75" fill="none" stroke="#e4edf7" stroke-width="1.25" stroke-linejoin="round" stroke-linecap="round"/>
<path d="M537.5 340.78 L539.84 341.56 L544.53 340 L550 337.66 L554.69 335.31 L558.59 336.09" fill="none" stroke="#e4edf7" stroke-width="1.25" stroke-linejoin="round" stroke-linecap="round"/>
<path d="M360.3 114.6 L361 118 L362.2 121.8" fill="none" stroke="#fff" stroke-width="1.1" stroke-linejoin="round" stroke-linecap="round"/>
<path d="M356.6 122.8 L358.4 123.6 L360.4 124.7" fill="none" stroke="#fff" stroke-width="0.9" stroke-linejoin="round" stroke-linecap="round"/>
<path d="M188.13 283.75 L190.94 286.56 L193.75 288.44 L193.75 291.25 L190 293.13 L188.13 295.94 L183.44 298.75 L181.56 301.56 L178.75 304.38 L175.94 307.19 L174.06 310" fill="none" stroke="#e4edf7" stroke-width="1.25" stroke-linejoin="round" stroke-linecap="round"/>
<path d="M430.62 358.75 L433.75 356.88 L436.88 356.88 L439.38 355" fill="none" stroke="#e4edf7" stroke-width="1.25" stroke-linejoin="round" stroke-linecap="round"/>
</svg>
<div class="sw" style="left:117px;background:#17548f;border-color:#103c68"></div><div class="lt" style="left:134.2px;transform:scaleX(0.97)">Yes</div>
<div class="sw" style="left:166.6px;background:#b94441;border-color:#7e2c2a"></div><div class="lt" style="left:184.2px;transform:scaleX(0.95)">No</div>
<div class="sw" style="left:212px;background:#4a7ab8;border-color:#2f5688"></div><div class="lt" style="left:229.3px;transform:scaleX(1.0)">Unknown</div>
<div class="sw" style="left:287.4px;background:#d4d4d4;border-color:#8c8c8c"></div><div class="lt" style="left:305px;transform:scaleX(0.99)">No response</div>
<div class="sw" style="left:377.6px;background:#989898;border-color:#666"></div><div class="lt" style="left:395.2px;transform:scaleX(1.045)">Did not participate in survey</div>
</body></html>
